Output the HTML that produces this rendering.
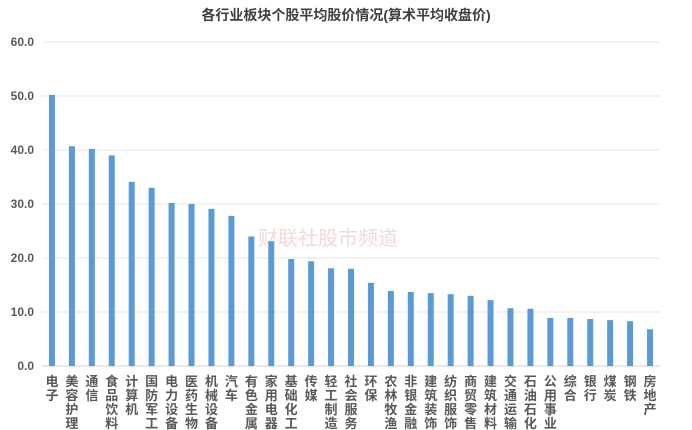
<!DOCTYPE html>
<html><head><meta charset="utf-8"><style>
body{margin:0;background:#fff;}
svg{display:block;font-family:"Liberation Sans","Noto Sans CJK SC",sans-serif;}
</style></head><body>
<svg id="c" width="692" height="430">
<text x="346" y="20" text-anchor="middle" font-size="14" font-weight="bold" fill="#404040">各行业板块个股平均股价情况(算术平均收盘价)</text>
<text x="258" y="245" text-anchor="start" font-size="20" fill="#f0d0d0" opacity="0.8">财联社股市频道</text>
<g id="grid"></g><g id="bars"></g><g id="labels"></g>
</svg>
<script>
const categories=["电子","美容护理","通信","食品饮料","计算机","国防军工","电力设备","医药生物","机械设备","汽车","有色金属","家用电器","基础化工","传媒","轻工制造","社会服务","环保","农林牧渔","非银金融","建筑装饰","纺织服饰","商贸零售","建筑材料","交通运输","石油石化","公用事业","综合","银行","煤炭","钢铁","房地产"];
const values=[50.2,40.7,40.2,39.0,34.1,33.0,30.2,30.0,29.1,27.8,24.0,23.1,19.8,19.4,18.1,18.0,15.4,13.9,13.7,13.5,13.3,13.0,12.2,10.7,10.6,8.9,8.9,8.7,8.5,8.3,6.8];
const yTicks=[0,10,20,30,40,50,60];
const NS="http://www.w3.org/2000/svg";
const y0=366,yTop=42,yMax=60,xL=42,xR=660;
const y=v=>y0-(v/yMax)*(y0-yTop);
const step=(xR-xL)/categories.length;
const x=i=>xL+step*(i+0.5);
const grid=document.getElementById('grid'),bars=document.getElementById('bars'),labels=document.getElementById('labels');
yTicks.forEach(t=>{
 const l=document.createElementNS(NS,'line');
 
 
 l.setAttribute('x1',xL);l.setAttribute('x2',xR);l.setAttribute('y1',y(t));l.setAttribute('y2',y(t));
 l.setAttribute('stroke',t===0?'#d0d0d0':'#e6e6e6');l.setAttribute('stroke-width','1');
 grid.appendChild(l);
 const tx=document.createElementNS(NS,'text');
 
 
 tx.setAttribute('x',34);tx.setAttribute('y',y(t)+4);tx.setAttribute('text-anchor','end');
 tx.setAttribute('font-size','12');tx.setAttribute('font-weight','bold');tx.setAttribute('fill','#595959');
 tx.textContent=t.toFixed(1);grid.appendChild(tx);
});
values.forEach((v,i)=>{
 const r=document.createElementNS(NS,'rect');
 
 
 r.setAttribute('x',x(i)-3);r.setAttribute('width',6);r.setAttribute('y',y(v));r.setAttribute('height',y0-y(v));
 r.setAttribute('fill','#5b9bd5');bars.appendChild(r);
});
categories.forEach((c,i)=>{
 const t=document.createElementNS(NS,'text');
 
 
 t.setAttribute('font-size','13');t.setAttribute('font-weight','bold');t.setAttribute('fill','#595959');t.setAttribute('text-anchor','middle');
 [...c].forEach((ch,k)=>{
  const s=document.createElementNS(NS,'tspan');
  s.setAttribute('x',x(i));s.setAttribute('y',386+k*14);s.textContent=ch;t.appendChild(s);
 });
 labels.appendChild(t);
});
</script>
</body></html>
